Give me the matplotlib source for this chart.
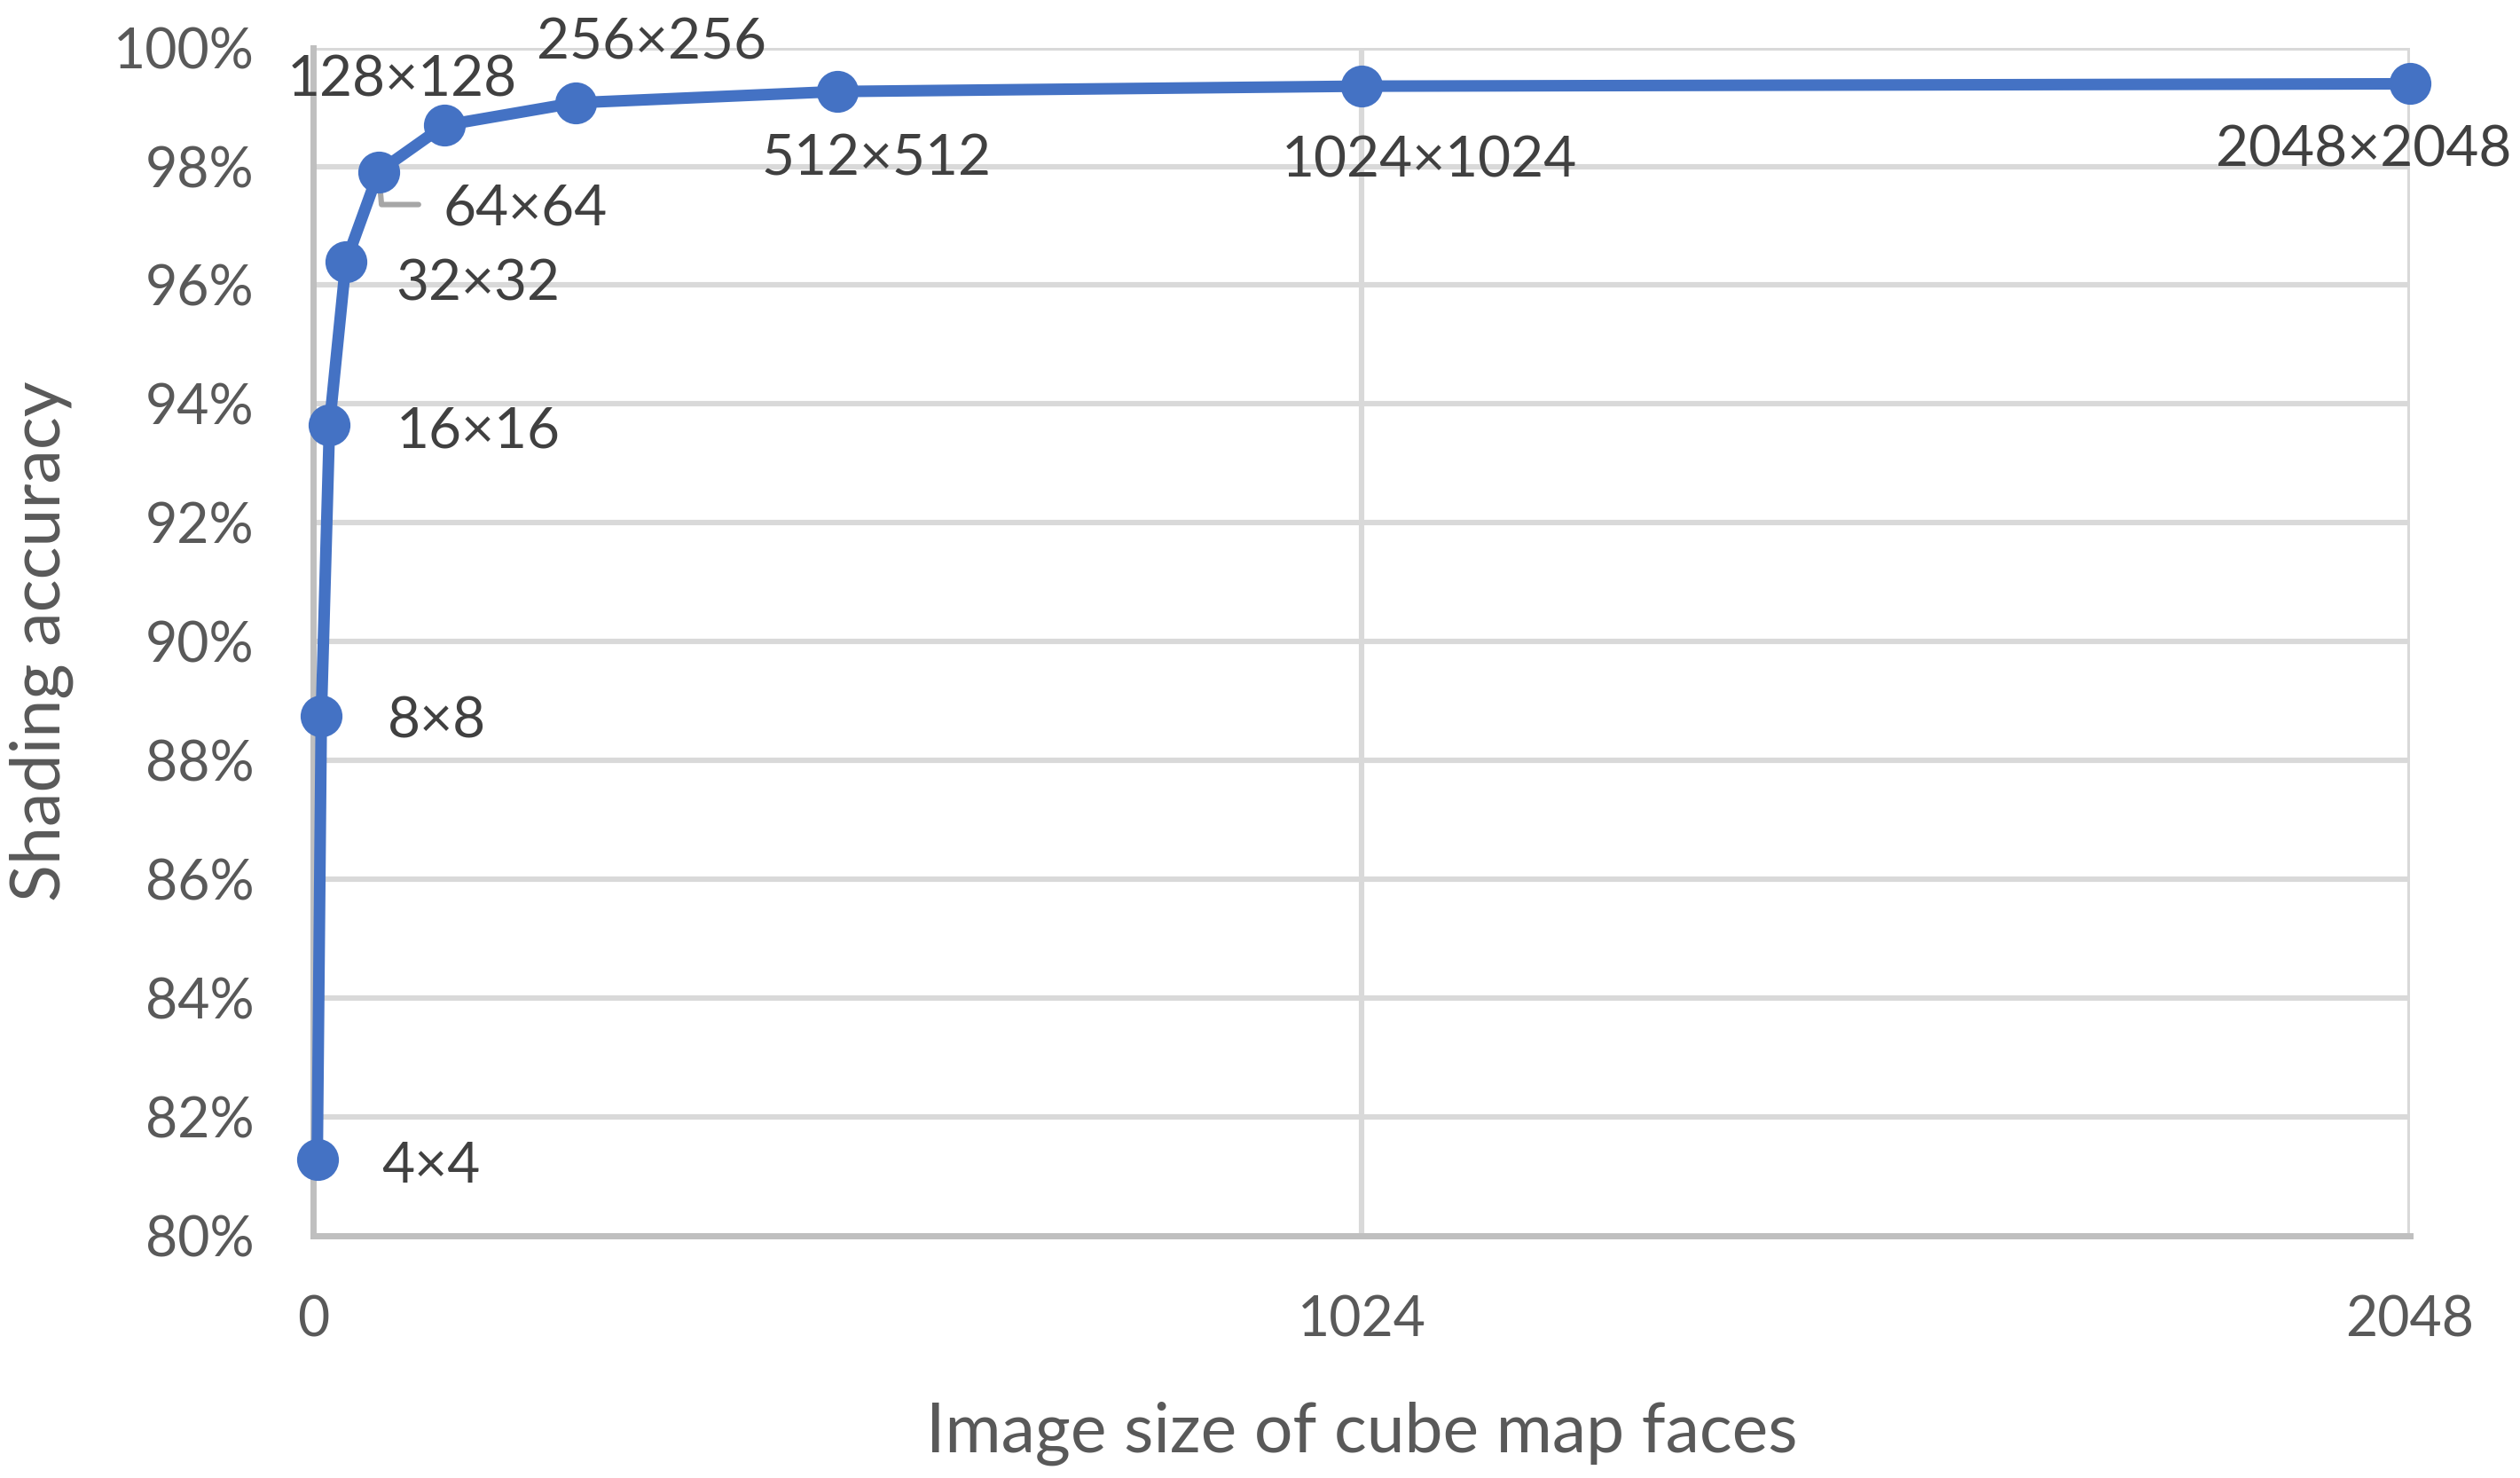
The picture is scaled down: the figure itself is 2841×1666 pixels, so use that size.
import matplotlib
matplotlib.use("Agg")
import matplotlib.pyplot as plt
from matplotlib.ticker import FuncFormatter, FixedLocator

plt.rcParams['font.family'] = ['Lato', 'DejaVu Sans']

# data
sizes = [4, 8, 16, 32, 64, 128, 256, 512, 1024, 2048]
accuracy = [0.8129, 0.8875, 0.9365, 0.9639, 0.9791, 0.9869, 0.9907, 0.9926, 0.9935, 0.9939]
point_labels = ["4×4", "8×8", "16×16", "32×32", "64×64", "128×128",
                "256×256", "512×512", "1024×1024", "2048×2048"]
x_ticks = [0, 1024, 2048]
y_ticks = [0.80, 0.82, 0.84, 0.86, 0.88, 0.90, 0.92, 0.94, 0.96, 0.98, 1.00]

# label placement (pixel offsets from the point, alignment)
label_pos = [(73, -8, 'left'), (75, -6, 'left'), (75, -8, 'left'), (56, -25, 'left'),
             (73, -42, 'left'), (-47, 51, 'center'), (86, 67, 'center'),
             (44, -76, 'center'), (76, -84, 'center'), (-52, -75, 'center')]

W, H = 2841, 1666
DPI = 200
fig = plt.figure(figsize=(W / DPI, H / DPI), dpi=DPI)
ax = fig.add_axes([353 / W, 1 - 1393 / H, (2717 - 353) / W, (1393 - 53.6) / H])

blue = '#4472c4'
grid_c = '#d9d9d9'
axis_c = '#bfbfbf'
tick_c = '#595959'
lab_c = '#404040'

ax.plot(sizes, accuracy, color=blue, lw=4.7, marker='o', markersize=17,
        markeredgewidth=0, zorder=4, clip_on=False)

ax.set_xlim(0, 2048)
ax.set_ylim(0.80, 1.00)
ax.xaxis.set_major_locator(FixedLocator(x_ticks))
ax.yaxis.set_major_locator(FixedLocator(y_ticks))
ax.yaxis.set_major_formatter(FuncFormatter(lambda v, p: f"{v * 100:.0f}%"))

ax.grid(True, color=grid_c, lw=2.2, zorder=0)
ax.set_axisbelow(True)
for s in ['top', 'right']:
    ax.spines[s].set_visible(False)
for s in ['left', 'bottom']:
    ax.spines[s].set_color(axis_c)
    ax.spines[s].set_linewidth(2.5)
    ax.spines[s].set_zorder(1)

ax.tick_params(length=0, labelsize=22.5, labelcolor=tick_c)
ax.tick_params(axis='x', pad=24)
ax.tick_params(axis='y', pad=24)

for i, (x, y, txt) in enumerate(zip(sizes, accuracy, point_labels)):
    dx, dy, ha = label_pos[i]
    ax.annotate(txt, xy=(x, y), xytext=(dx, dy), textcoords='offset pixels',
                ha=ha, va='center', fontsize=23, color=lab_c, zorder=5,
                annotation_clip=False)

# leader line for the 64x64 label
ax.annotate('', xy=(sizes[4], accuracy[4]), xytext=(45, -37), textcoords='offset pixels',
            arrowprops=dict(arrowstyle='-', color='#a6a6a6', lw=2.2, shrinkA=0, shrinkB=0,
                            connectionstyle='angle,angleA=0,angleB=95,rad=0'),
            zorder=3)

fig.text(1535 / W, 1 - 1637 / H, "Image size of cube map faces", ha='center',
         va='baseline', fontsize=27.7, color=tick_c)
fig.text(47 / W, 1 - 723 / H, "Shading accuracy", ha='center', va='center',
         rotation=90, fontsize=27.8, color=tick_c)

fig.savefig("out.png", dpi=DPI, facecolor='white')
